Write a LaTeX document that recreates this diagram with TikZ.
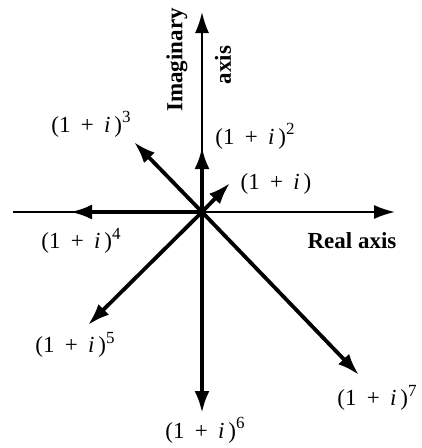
\documentclass[tikz,border=0pt]{standalone}
\usepackage{fontspec}
\setmainfont{Liberation Serif}
\usetikzlibrary{arrows.meta}

\newcommand{\pw}[1]{(1\hspace{0.45em}+\hspace{0.45em}\textit{i}\,)\raisebox{0.42em}{\fontsize{17}{19}\selectfont #1}}

\begin{document}
\begin{tikzpicture}[x=1pt, y=-1pt,
    axisline/.style={line width=2pt, -{Latex[length=21pt, width=14pt]}},
    vec/.style={line width=3.8pt, -{Latex[length=22pt, width=15pt]}},
    lbl/.style={font=\fontsize{23}{26}\selectfont, inner sep=0pt},
    axlbl/.style={font=\fontsize{23}{26}\selectfont\bfseries, inner sep=0pt, rotate=90}]
    \useasboundingbox (0,0) rectangle (422,448);

    % origin and the tips of the powers
    \coordinate (O) at (202,212);
    \coordinate (p1) at (230,183);
    \coordinate (p2) at (202,147);
    \coordinate (p3) at (134,142);
    \coordinate (p4) at (70,212);
    \coordinate (p5) at (88,325);
    \coordinate (p6) at (202,413);
    \coordinate (p7) at (359,375);
    \coordinate (xl) at (13,212);
    \coordinate (xr) at (395,212);
    \coordinate (yt) at (202,12);

    % axes
    \draw[line width=2pt] (xl) -- (O);
    \draw[axisline] (O) -- (xr);
    \draw[axisline] (O) -- (yt);

    % vectors
    \foreach \k in {1,...,7}
        \draw[vec] (O) -- (p\k);

    % labels
    \node[axlbl] (ima) at (177,60) {Imaginary};
    \node[axlbl] (axs) at (223,65) {axis};
    \node[lbl, font=\fontsize{23}{26}\selectfont\bfseries] (real) at (352,241) {Real axis};
    \node[lbl] (l1) at (276,184) {(1\hspace{0.45em}+\hspace{0.45em}\textit{i}\,)};
    \node[lbl] (l2) at (255,136) {\pw{2}};
    \node[lbl] (l3) at (91,124) {\pw{3}};
    \node[lbl] (l4) at (81,241) {\pw{4}};
    \node[lbl] (l5) at (75,345) {\pw{5}};
    \node[lbl] (l6) at (205,430) {\pw{6}};
    \node[lbl] (l7) at (377,398) {\pw{7}};
\end{tikzpicture}
\end{document}
